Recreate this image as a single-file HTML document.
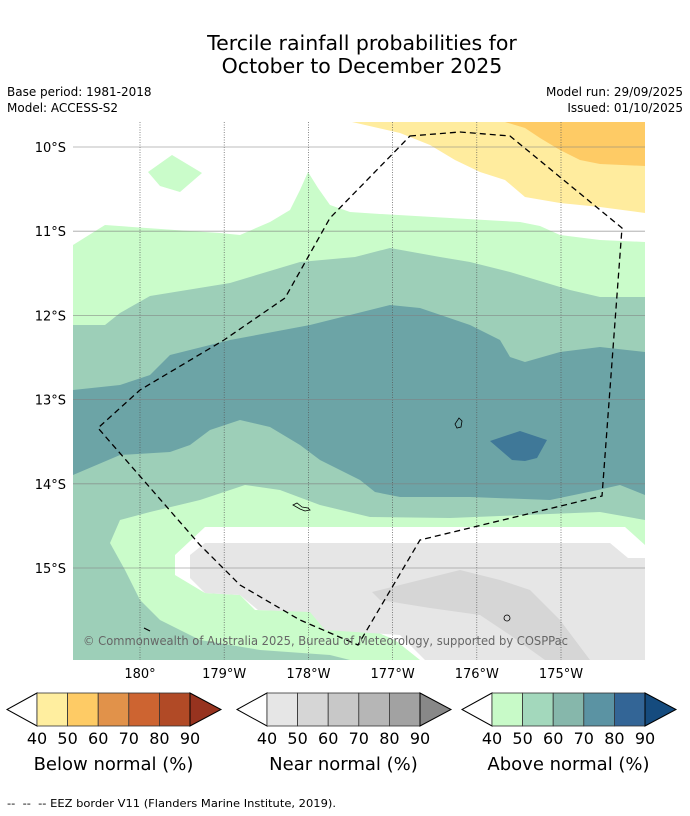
<!DOCTYPE html>
<html><head><meta charset="utf-8"><style>
html,body{margin:0;padding:0;background:#fff;}
svg{display:block;font-family:"DejaVu Sans","Liberation Sans",sans-serif;}
</style></head><body>
<svg id="chart" width="690" height="816" viewBox="0 0 690 816">
<text x="362" y="50" font-size="20.5" text-anchor="middle">Tercile rainfall probabilities for</text>
<text x="362" y="73" font-size="20.5" text-anchor="middle">October to December 2025</text>
<text x="7" y="96" font-size="12">Base period: 1981-2018</text>
<text x="7" y="112" font-size="12">Model: ACCESS-S2</text>
<text x="683" y="96" font-size="12" text-anchor="end">Model run: 29/09/2025</text>
<text x="683" y="112" font-size="12" text-anchor="end">Issued: 01/10/2025</text>
<defs><clipPath id="mapclip"><rect x="73" y="122" width="572" height="538"/></clipPath></defs>
<g clip-path="url(#mapclip)">
<rect x="73" y="122" width="572" height="538" fill="#9dcfb8"/>
<polygon fill="#cafcca" points="73,122 645,122 645,297 600,297 570,290 510,272 470,262 440,257 390,248 355,257 300,262 230,283 150,296 120,313 105,325 73,325"/>
<polygon fill="#ffffff" points="73,122 645,122 645,242 600,240 560,235 540,226 520,222 450,218 380,214 350,212 330,205 318,188 308,172 300,190 290,210 270,222 240,235 220,233 175,230 105,225 73,245"/>
<polygon fill="#cafcca" points="148,172 172,155 202,173 180,192 160,186"/>
<polygon fill="#ffec9e" points="352,122 645,122 645,213 600,207 560,203 525,197 505,180 480,172 455,160 430,145 400,133"/>
<polygon fill="#fecb65" points="505,122 645,122 645,166 600,164 580,160 560,150 540,138 525,128"/>
<polygon fill="#6ca4a6" points="73,390 120,385 150,375 170,355 230,340 310,325 350,315 390,305 420,308 470,325 500,340 510,357 525,362 560,352 600,347 645,352 645,495 620,485 598,490 550,500 470,497 400,497 375,492 360,480 340,470 320,460 300,445 270,427 240,420 210,430 190,445 170,452 120,455 73,475"/>
<polygon fill="#3f7898" points="490,441 520,431 547,440 537,458 525,461 512,460"/>
<polygon fill="#cafcca" points="110,543 120,520 150,512 200,500 245,485 280,490 320,505 370,517 450,518 600,512 645,520 645,660 350,660 330,655 260,650 200,640 160,620 140,600 125,570"/>
<polygon fill="#ffffff" points="175,555 205,527 625,527 645,545 645,660 420,660 395,640 330,612 255,610 240,595 205,593 175,575"/>
<polygon fill="#e6e6e6" points="190,555 205,543 610,543 628,558 645,558 645,660 425,660 400,635 325,630 310,612 258,610 240,595 205,593 190,578"/>
<polygon fill="#d6d6d6" points="372,592 400,585 460,570 500,580 530,590 560,620 590,660 545,660 510,635 480,615 430,608 380,600"/>
<g id="grid"></g>
<polygon fill="none" stroke="#000" stroke-width="1.3" stroke-dasharray="6,4" points="410,136 460,132 510,136 622,228 602,496 420,540 358,645 300,620 240,585 200,545 98,428 140,390 224,340 285,298 330,218 410,136"/>
<path d="M459,418 l3,3 -1,6 -4,1 -2,-4z" fill="none" stroke="#000" stroke-width="0.8"/>
<path d="M293,505 l4,-2 5,4 6,1 2,2 -5,1 -5,-2z" fill="none" stroke="#000" stroke-width="0.8"/>
<circle cx="507" cy="618" r="3" fill="none" stroke="#000" stroke-width="0.8"/>
<path d="M144,628 l6,3" stroke="#000" stroke-width="1.2"/>
<text x="83" y="645" font-size="12" fill="#666" textLength="485" lengthAdjust="spacingAndGlyphs">© Commonwealth of Australia 2025, Bureau of Meteorology, supported by COSPPac</text>
</g>
<g id="ticks"></g>
<g id="cbars"></g>
<text x="7" y="807" font-size="11" xml:space="preserve" textLength="329" lengthAdjust="spacingAndGlyphs">--  --  -- EEZ border V11 (Flanders Marine Institute, 2019).</text>
</svg>
<script>
const lonTicks=[180,181,182,183,184,185];
const lonLabels=["180°","179°W","178°W","177°W","176°W","175°W"];
const latTicks=[10,11,12,13,14,15];
const latLabels=["10°S","11°S","12°S","13°S","14°S","15°S"];
const levels=[40,50,60,70,80,90];
const belowColors=["#ffee9f","#fecb65","#e1924a","#cd6431","#b14a26","#97331f"];
const nearColors=["#e6e6e6","#d6d6d6","#c8c8c8","#b6b6b6","#a2a2a2","#888888"];
const aboveColors=["#c8fac8","#a3d8bc","#86b7ab","#5b93a3","#336596","#154b7e"];
const cbarTitles=["Below normal (%)","Near normal (%)","Above normal (%)"];
const NS="http://www.w3.org/2000/svg";
const xScale=lon=>140+(lon-180)*84.2;
const yScale=lat=>147+(lat-10)*84.2;
function mk(tag,attrs,parent){const e=document.createElementNS(NS,tag);for(const k in attrs)e.setAttribute(k,attrs[k]);parent.appendChild(e);return e;}
const grid=document.getElementById('grid'),ticks=document.getElementById('ticks');
lonTicks.forEach((lon,i)=>{
 const l=mk('line',{x1:xScale(lon),x2:xScale(lon),y1:122,y2:660,stroke:'#555','stroke-width':0.7,'stroke-dasharray':'1,1.5'},grid);
 
 
 const t=mk('text',{x:xScale(lon),y:678,'font-size':13,'text-anchor':'middle'},ticks);
 t.textContent=lonLabels[i];
 
 
});
latTicks.forEach((lat,i)=>{
 const l=mk('line',{x1:73,x2:645,y1:yScale(lat),y2:yScale(lat),stroke:'#808080','stroke-width':0.8,opacity:0.7},grid);
 
 
 const t=mk('text',{x:66,y:yScale(lat)+5,'font-size':13,'text-anchor':'end'},ticks);
 t.textContent=latLabels[i];
 
 
});
const cb=document.getElementById('cbars');
const sets=[belowColors,nearColors,aboveColors];
const lefts=[37,267,492];
sets.forEach((cols,k)=>{
 const x0=lefts[k],w=153,y0=693,h=33,seg=w/5;
 const g=mk('g',{},cb);
 
 
 const la=mk('polygon',{points:`${x0},${y0} ${x0-30},${y0+h/2} ${x0},${y0+h}`,fill:'#fff',stroke:'#000','stroke-width':1},g);
 
 
 for(let i=0;i<5;i++){
  const r=mk('rect',{x:x0+i*seg,y:y0,width:seg,height:h,fill:cols[i],stroke:'#333','stroke-width':0.8},g);
  
  
 }
 const ra=mk('polygon',{points:`${x0+w},${y0} ${x0+w+31},${y0+h/2} ${x0+w},${y0+h}`,fill:cols[5],stroke:'#000','stroke-width':1},g);
 
 
 levels.forEach((v,i)=>{
  const t=mk('text',{x:x0+i*seg,y:744,'font-size':16,'text-anchor':'middle'},g);
  t.textContent=v;
  
  
 });
 const tt=mk('text',{x:x0+w/2,y:770,'font-size':18,'text-anchor':'middle'},g);
 tt.textContent=cbarTitles[k];
 
 
});
</script>
</body></html>
